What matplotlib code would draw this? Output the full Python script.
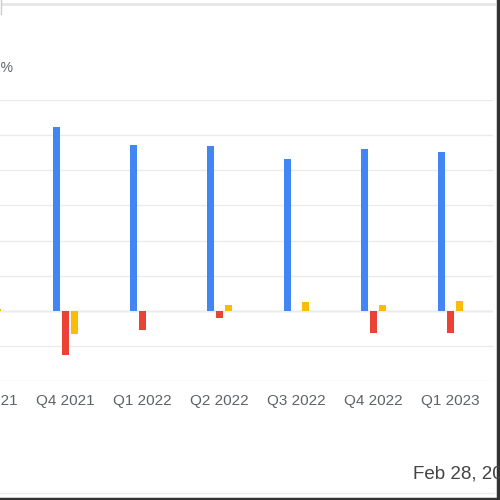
import matplotlib
matplotlib.use("Agg")
import matplotlib.pyplot as plt
from matplotlib.lines import Line2D
import numpy as np

plt.rcParams['font.family'] = ['Liberation Sans', 'DejaVu Sans']

categories = ["Q3 2021", "Q4 2021", "Q1 2022", "Q2 2022", "Q3 2022", "Q4 2022", "Q1 2023"]
series_blue = [50.0, 52.2, 47.2, 46.9, 43.1, 46.0, 45.1]
series_red = [-5.0, -12.6, -5.4, -2.2, -0.2, -6.3, -6.3]
series_yellow = [0.4, -6.6, 0.0, 1.6, 2.6, 1.7, 2.9]
y_ticks = [-20, -10, 0, 10, 20, 30, 40, 50, 60]
axis_title = "h %"
date_text = "Feb 28, 2023"

colors = ["#4285F4", "#EA4335", "#FBBC04"]

fig = plt.figure(figsize=(5, 5), dpi=100)
W = H = 500.0
# axes region in pixels (partly off-canvas, as in the cropped reference)
left_px, right_px = -50.2, 493.0
top_px, bottom_px = 100.0, 381.0
ax = fig.add_axes([left_px / W, 1 - bottom_px / H, (right_px - left_px) / W, (bottom_px - top_px) / H])

x = np.arange(len(categories))
bw = 0.09
off = 0.116
ax.bar(x - off, series_blue, width=bw, color=colors[0], zorder=3)
ax.bar(x, series_red, width=bw, color=colors[1], zorder=3)
ax.bar(x + off, series_yellow, width=bw, color=colors[2], zorder=3)

ax.set_xlim(-0.5, 6.55)
ax.set_ylim(-20, 60)
ax.set_yticks(y_ticks)
ax.set_yticklabels([])
ax.set_xticks(x)
ax.set_xticklabels(categories, fontsize=11, color="#5f6368")
ax.tick_params(axis='x', length=0, pad=9)
ax.tick_params(axis='y', length=0)
ax.grid(axis='y', color="#ebebeb", linewidth=1, zorder=0)
ax.axhline(0, color="#d9d9d9", linewidth=1, zorder=1)
for s in ax.spines.values():
    s.set_visible(False)

fig.text(13 / W, 1 - 68 / H, axis_title, ha='right', va='center', fontsize=10, color="#5f6368")
fig.text(413 / W, 1 - 474 / H, date_text, ha='left', va='center', fontsize=13.5, color="#444444")

# frame lines of the screenshot
fig.add_artist(Line2D([3 / W, 494 / W], [1 - 4 / H, 1 - 4 / H], color="#e6e6e6", linewidth=2, transform=fig.transFigure))
fig.add_artist(Line2D([0, 494 / W], [1 - 493 / H, 1 - 493 / H], color="#ececec", linewidth=1, transform=fig.transFigure))
fig.add_artist(Line2D([0, 1], [1 - 498.5 / H, 1 - 498.5 / H], color="#333333", linewidth=2.5, transform=fig.transFigure))
fig.add_artist(Line2D([498 / W, 498 / W], [0, 1], color="#333333", linewidth=2.5, transform=fig.transFigure))
fig.add_artist(Line2D([0.5 / W, 0.5 / W], [1, 1 - 14 / H], color="#cccccc", linewidth=1, transform=fig.transFigure))

fig.savefig("out.png", dpi=100, facecolor="white")
